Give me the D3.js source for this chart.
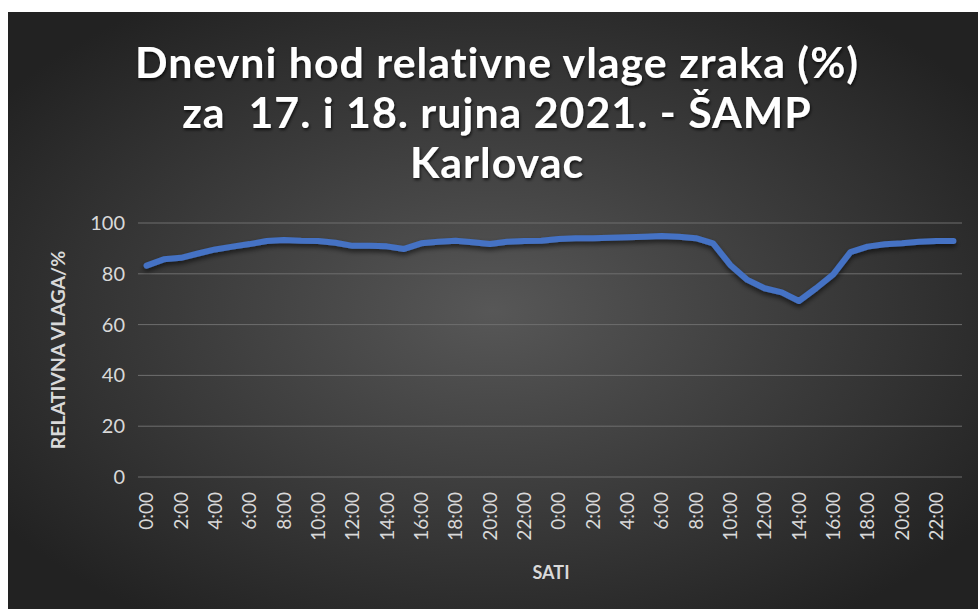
<!DOCTYPE html>
<html>
<head>
<meta charset="utf-8">
<script src="https://cdn.jsdelivr.net/npm/d3@7"></script>
<style>
  html, body { margin: 0; padding: 0; background: #fff; }
  svg { display: block; }
</style>
</head>
<body>
<div id="chart"></div>
<script>
// Data: hourly relative humidity, 17 and 18 Sept 2021
const hours = d3.range(48).map(i => `${i % 24}:00`);
const humidity = [
  83.2, 85.7, 86.3, 88.0, 89.6, 90.7, 91.7, 92.9, 93.3, 93.0, 92.9, 92.2,
  91.0, 91.0, 90.8, 89.8, 92.0, 92.6, 93.0, 92.4, 91.7, 92.6, 92.9, 93.0,
  93.7, 94.0, 94.0, 94.2, 94.4, 94.6, 94.9, 94.6, 94.0, 92.0, 83.5, 77.6,
  74.3, 72.7, 69.3, 74.3, 79.8, 88.5, 90.7, 91.6, 92.0, 92.6, 92.9, 92.9
];
const yTicks = [0, 20, 40, 60, 80, 100];
const titleLines = [
  "Dnevni hod relativne vlage zraka (%)",
  "za  17. i 18. rujna 2021. - ŠAMP",
  "Karlovac"
];

const width = 978, height = 609;
const margin = { top: 223, right: 16, bottom: 132, left: 138 };
const font = "Lato, 'Open Sans', sans-serif";

const svg = d3.select("#chart").append("svg")
  .attr("width", width)
  .attr("height", height);

const defs = svg.append("defs");
const grad = defs.append("radialGradient")
  .attr("id", "bg")
  .attr("cx", "50%").attr("cy", "50%").attr("r", "62%");
grad.append("stop").attr("offset", "0%").attr("stop-color", "#575757");
grad.append("stop").attr("offset", "100%").attr("stop-color", "#222222");

const shadow = defs.append("filter").attr("id", "shadow")
  .attr("x", "-10%").attr("y", "-30%").attr("width", "120%").attr("height", "160%");
shadow.append("feDropShadow")
  .attr("dx", 0).attr("dy", 3).attr("stdDeviation", 2.5)
  .attr("flood-color", "#000").attr("flood-opacity", 0.6);

const tshadow = defs.append("filter").attr("id", "tshadow")
  .attr("x", "-5%").attr("y", "-20%").attr("width", "110%").attr("height", "140%");
tshadow.append("feDropShadow")
  .attr("dx", 1).attr("dy", 2).attr("stdDeviation", 1.5)
  .attr("flood-color", "#000").attr("flood-opacity", 0.7);

// background panel
svg.append("rect")
  .attr("x", 8).attr("y", 12)
  .attr("width", width - 8).attr("height", height - 12)
  .attr("fill", "url(#bg)");

const x = d3.scaleBand()
  .domain(d3.range(hours.length))
  .range([margin.left, width - margin.right])
  .padding(0);

const y = d3.scaleLinear()
  .domain([0, 100])
  .range([height - margin.bottom, margin.top]);

// gridlines
svg.append("g")
  .selectAll("line")
  .data(yTicks)
  .join("line")
    .attr("x1", margin.left)
    .attr("x2", width - margin.right)
    .attr("y1", d => y(d))
    .attr("y2", d => y(d))
    .attr("stroke", "#6e6e6e")
    .attr("stroke-width", 1);

// y axis labels
const yAxis = svg.append("g")
  .attr("transform", `translate(${margin.left - 13},0)`)
  .call(d3.axisLeft(y).tickValues(yTicks).tickSize(0).tickPadding(0));
yAxis.select(".domain").remove();
yAxis.selectAll("text")
  .attr("fill", "#d9d9d9")
  .style("font-family", font)
  .style("font-size", "20px");

// x axis labels
const xAxis = svg.append("g")
  .attr("transform", `translate(0,${height - margin.bottom})`)
  .call(d3.axisBottom(x)
    .tickValues(d3.range(0, hours.length, 2))
    .tickFormat(i => hours[i])
    .tickSize(0));
xAxis.select(".domain").remove();
xAxis.selectAll("text")
  .attr("fill", "#d9d9d9")
  .style("font-family", font)
  .style("font-size", "19px")
  .attr("text-anchor", "end")
  .attr("transform", "rotate(-90)")
  .attr("x", -15)
  .attr("y", 0)
  .attr("dy", "0.35em");

// line
const line = d3.line()
  .x((d, i) => x(i) + x.bandwidth() / 2)
  .y(d => y(d));

svg.append("path")
  .datum(humidity)
  .attr("fill", "none")
  .attr("stroke", "#4472c4")
  .attr("stroke-width", 6)
  .attr("stroke-linejoin", "round")
  .attr("stroke-linecap", "round")
  .attr("filter", "url(#shadow)")
  .attr("d", line);

// axis titles
svg.append("text")
  .attr("x", 551)
  .attr("y", 579)
  .attr("text-anchor", "middle")
  .attr("fill", "#d9d9d9")
  .style("font-family", font)
  .style("font-weight", "bold")
  .style("font-size", "18px")
  .text("SATI");

svg.append("text")
  .attr("transform", `translate(65,350) rotate(-90)`)
  .attr("text-anchor", "middle")
  .attr("fill", "#d9d9d9")
  .style("font-family", font)
  .style("font-weight", "bold")
  .style("font-size", "19.5px")
  .text("RELATIVNA VLAGA/%");

// title
const title = svg.append("text")
  .attr("text-anchor", "middle")
  .attr("fill", "#ffffff")
  .attr("filter", "url(#tshadow)")
  .style("font-family", font)
  .style("font-weight", "bold")
  .style("font-size", "38px")
  .style("letter-spacing", "1px")
  .style("white-space", "pre");

title.selectAll("tspan")
  .data(titleLines)
  .join("tspan")
    .attr("x", 497)
    .attr("y", (d, i) => 78 + i * 50)
    .text(d => d);

// scale the title so the first line spans like the original
const w0 = title.select("tspan").node().getComputedTextLength();
const fs = 38 * 729 / w0;
title.style("font-size", `${fs}px`);
</script>
</body>
</html>
